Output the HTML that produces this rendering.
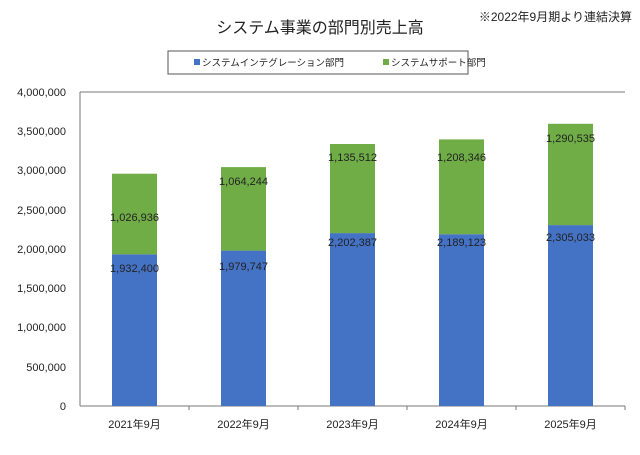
<!DOCTYPE html>
<html><head><meta charset="utf-8"><style>
body{margin:0;background:#fff;}
svg text{font-family:"Liberation Sans","Noto Sans CJK JP",sans-serif;}
</style></head><body>
<svg width="640" height="450" viewBox="0 0 640 450" xmlns="http://www.w3.org/2000/svg">
<rect width="640" height="450" fill="#fff"/>
<text x="320" y="33" font-size="16" text-anchor="middle" fill="#222">システム事業の部門別売上高</text>
<text x="632" y="21" font-size="12" text-anchor="end" fill="#222">※2022年9月期より連結決算</text>
<rect x="168" y="51" width="300" height="23" fill="#fff" stroke="#555" stroke-width="1"/>
<rect x="194" y="59" width="6" height="6" fill="#4472C4"/>
<text x="202" y="66" font-size="9.5" fill="#222">システムインテグレーション部門</text>
<rect x="383" y="59" width="6" height="6" fill="#70AD47"/>
<text x="391" y="66" font-size="9.5" fill="#222">システムサポート部門</text>
<g font-size="11" fill="#222" text-anchor="end">
<text x="66" y="96">4,000,000</text>
<text x="66" y="135">3,500,000</text>
<text x="66" y="174">3,000,000</text>
<text x="66" y="214">2,500,000</text>
<text x="66" y="253">2,000,000</text>
<text x="66" y="292">1,500,000</text>
<text x="66" y="331">1,000,000</text>
<text x="66" y="371">500,000</text>
<text x="66" y="410">0</text>
</g>
<line x1="80" y1="92" x2="625" y2="92" stroke="#777"/>
<line x1="80" y1="92" x2="80" y2="406" stroke="#777"/>
<line x1="80" y1="406" x2="625" y2="406" stroke="#777"/>
<g stroke="#777">
<line x1="189" y1="406" x2="189" y2="410"/><line x1="298" y1="406" x2="298" y2="410"/>
<line x1="407" y1="406" x2="407" y2="410"/><line x1="516" y1="406" x2="516" y2="410"/>
<line x1="625" y1="406" x2="625" y2="410"/>
</g>
<g fill="#4472C4">
<rect x="112" y="254.3" width="45" height="151.7"/>
<rect x="221" y="250.6" width="45" height="155.4"/>
<rect x="330" y="233.1" width="45" height="172.9"/>
<rect x="439" y="234.2" width="45" height="171.8"/>
<rect x="548" y="225.1" width="45" height="180.9"/>
</g>
<g fill="#70AD47">
<rect x="112" y="173.7" width="45" height="80.6"/>
<rect x="221" y="167.1" width="45" height="83.5"/>
<rect x="330" y="144.0" width="45" height="89.1"/>
<rect x="439" y="139.4" width="45" height="94.8"/>
<rect x="548" y="123.8" width="45" height="101.3"/>
</g>
<g font-size="11" fill="#222" text-anchor="middle">
<text x="134.5" y="221">1,026,936</text>
<text x="243.5" y="185">1,064,244</text>
<text x="352.5" y="161">1,135,512</text>
<text x="461.5" y="161">1,208,346</text>
<text x="570.5" y="142">1,290,535</text>
<text x="134.5" y="272">1,932,400</text>
<text x="243.5" y="270">1,979,747</text>
<text x="352.5" y="246">2,202,387</text>
<text x="461.5" y="246">2,189,123</text>
<text x="570.5" y="241">2,305,033</text>
<text x="134.5" y="428">2021年9月</text>
<text x="243.5" y="428">2022年9月</text>
<text x="352.5" y="428">2023年9月</text>
<text x="461.5" y="428">2024年9月</text>
<text x="570.5" y="428">2025年9月</text>
</g>
</svg>
</body></html>
